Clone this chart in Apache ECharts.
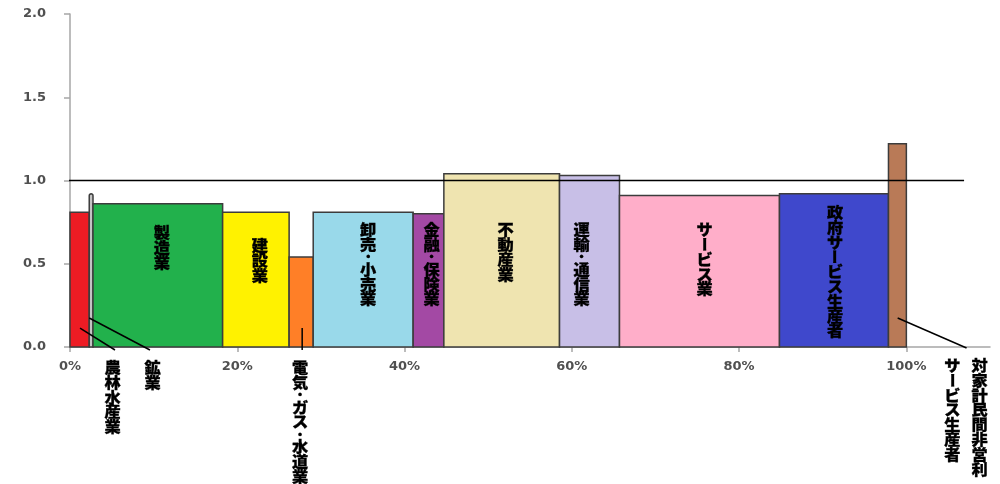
<!DOCTYPE html>
<html><head><meta charset="utf-8">
<script src="https://cdn.jsdelivr.net/npm/echarts@6/dist/echarts.min.js"></script>
<style>html,body{margin:0;padding:0;background:#fff}#c{width:1000px;height:484px}</style>
</head><body><div id="c"></div>
<script>
// ---- data ----
const industries = ['農林水産業','鉱業','製造業','建設業','電気･ガス･水道業','卸売･小売業','金融･保険業','不動産業','運輸･通信業','サービス業','政府サービス生産者','対家計民間非営利サービス生産者'];
const shares = [2.3, 0.45, 15.5, 7.95, 2.88, 11.95, 3.67, 13.83, 7.17, 19.13, 13.03, 2.14];
const ratios = [0.81, 0.92, 0.86, 0.81, 0.54, 0.81, 0.80, 1.04, 1.03, 0.91, 0.92, 1.22];
const xTicks = [0, 20, 40, 60, 80, 100];
const yTicks = [0, 0.5, 1.0, 1.5, 2.0];
const refLevel = 1.0;

// ---- style / layout ----
const colors = ['#ED1C24','#C3C3C3','#22B14C','#FFF200','#FF7F27','#99D9EA','#A349A4','#EFE4B0','#C8BFE7','#FFAEC9','#3F48CC','#B97A57'];
const labelLayout = [
  {mode:'out', top:-0.078, cols:[{from:0, x:5.1}], line:[[1.2,0.114],[5.38,-0.018]]},
  {mode:'out', top:-0.078, cols:[{from:0, x:9.88}], line:[[2.3,0.174],[9.56,-0.018]]},
  {mode:'in', top:0.733, dx:4},
  {mode:'in', top:0.655, dx:4},
  {mode:'out', top:-0.078, cols:[{from:0, x:27.5}], line:[[27.76,0.114],[27.76,-0.018]]},
  {mode:'in', top:0.75, dx:5},
  {mode:'in', top:0.75, dx:3},
  {mode:'in', top:0.75, dx:4},
  {mode:'in', top:0.75, dx:-8},
  {mode:'in', top:0.75, dx:5},
  {mode:'in', top:0.853, dx:1},
  {mode:'out', top:-0.066, cols:[{from:0, to:8, x:108.76},{from:8, x:105.5}], line:[[98.96,0.174],[107.2,-0.006]]}
];
const STEP = 14.8, DOT_STEP = 10;
const FONT = '900 15px "Noto Sans CJK JP"';

const items = [];
let acc = 0;
for (let i = 0; i < shares.length; i++) {
  items.push([acc, acc + shares[i], ratios[i], i]);
  acc += shares[i];
}

function vtext(str, cx, topY) {
  const out = [];
  let y = topY;
  for (const ch of str) {
    const isDot = ch === '･' || ch === '・';
    const h = isDot ? DOT_STEP : STEP;
    const el = {type:'text', x:cx, y:y + h/2, scaleX:1.08,
      style:{text:ch, font:FONT, fill:'#000', stroke:'#000', lineWidth:0.3, align:'center', verticalAlign:'middle'}};
    if (ch === 'ー') { el.rotation = -Math.PI/2; el.scaleX = 1; }
    out.push(el);
    y += h;
  }
  return out;
}

function renderBar(params, api) {
  const s = api.value(0), e = api.value(1), v = api.value(2), idx = api.value(3);
  const p0 = api.coord([s, v]), p1 = api.coord([e, 0]);
  return {
    type:'rect',
    shape:{x:p0[0], y:p0[1], width:p1[0]-p0[0], height:p1[1]-p0[1], r: idx===1 ? [2,2,0,0] : 0},
    style:{fill:colors[idx], stroke:'#3c3c3c', lineWidth:1.5}
  };
}

function renderLabel(params, api) {
  const s = api.value(0), e = api.value(1), idx = api.value(3);
  const children = [];
  const L = labelLayout[idx];
  const name = industries[idx];
  if (L.mode === 'in') {
    const c = api.coord([(s+e)/2, L.top]);
    children.push(...vtext(name, c[0] + (L.dx||0), c[1]));
  } else {
    const a = api.coord(L.line[0]), b = api.coord(L.line[1]);
    children.push({type:'line', shape:{x1:a[0], y1:a[1], x2:b[0], y2:b[1]}, style:{stroke:'#000', lineWidth:1.5}});
    for (const col of L.cols) {
      const str = Array.from(name).slice(col.from, col.to).join('');
      const c = api.coord([col.x, L.top]);
      children.push(...vtext(str, c[0], c[1]));
    }
  }
  return {type:'group', children};
}

const axisText = {color:'#505050', fontFamily:'DejaVu Sans', fontWeight:'bold', fontSize:13};
const chart = echarts.init(document.getElementById('c'), null, {renderer:'canvas'});
chart.setOption({
  animation:false,
  backgroundColor:'#fff',
  grid:{left:70, right:10, top:14, bottom:137, outerBoundsMode:'none', containLabel:false},
  xAxis:{
    type:'value', min:0, max:110,
    axisLine:{show:true, lineStyle:{color:'#A6A6A6', width:1.5}},
    axisTick:{show:true, length:5, customValues:xTicks, lineStyle:{color:'#A6A6A6', width:1.5}},
    axisLabel:Object.assign({customValues:xTicks, margin:13, formatter:v => v + '%'}, axisText),
    splitLine:{show:false}
  },
  yAxis:{
    type:'value', min:0, max:2, interval:0.5,
    axisLine:{show:true, lineStyle:{color:'#A6A6A6', width:1.5}},
    axisTick:{show:true, length:6, customValues:yTicks, lineStyle:{color:'#A6A6A6', width:1.5}},
    axisLabel:Object.assign({customValues:yTicks, margin:24, formatter:v => v.toFixed(1)}, axisText),
    splitLine:{show:false}
  },
  series:[
    {type:'custom', renderItem:renderBar, data:items, encode:{x:[0,1], y:2}, silent:true, z:2, clip:false},
    {type:'line', data:[[-0.4, refLevel],[106.9, refLevel]], symbol:'none', silent:true, clip:false, z:5,
     lineStyle:{color:'#000', width:1.3}},
    {type:'custom', renderItem:renderLabel, data:items, encode:{x:[0,1], y:2}, silent:true, z:6, clip:false}
  ]
});
</script></body></html>
